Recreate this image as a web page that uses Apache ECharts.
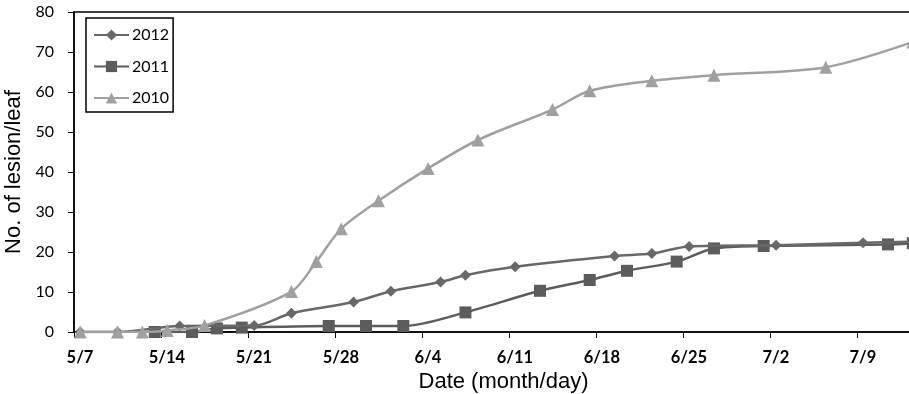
<!DOCTYPE html>
<html>
<head>
<meta charset="utf-8">
<script src="https://cdn.jsdelivr.net/npm/echarts@6/dist/echarts.min.js"></script>
<style>html,body{margin:0;padding:0;background:#fff;}#c{width:909px;height:394px;}</style>
</head>
<body>
<div id="c"></div>
<script>
// Dates (month/day) and values
const dates2012 = ['5/7','5/10','5/15','5/21','5/24','5/29','6/1','6/5','6/7','6/11','6/19','6/22','6/25','7/2','7/9','7/13'];
const values2012 = [0, 0, 1.5, 1.6, 4.7, 7.5, 10.2, 12.5, 14.2, 16.3, 19, 19.6, 21.4, 21.7, 22.3, 22.6];
const dates2011 = ['5/13','5/16','5/18','5/20','5/27','5/30','6/2','6/7','6/13','6/17','6/20','6/24','6/27','7/1','7/11','7/13'];
const values2011 = [0, 0, 0.9, 1.1, 1.5, 1.5, 1.5, 4.9, 10.3, 13, 15.3, 17.6, 20.9, 21.5, 21.9, 22.2];
const dates2010 = ['5/7','5/10','5/12','5/14','5/17','5/24','5/26','5/28','5/31','6/4','6/8','6/14','6/17','6/22','6/27','7/6','7/13'];
const values2010 = [0, 0, 0, 0.4, 1.6, 10.1, 17.6, 25.8, 32.8, 40.9, 48, 55.6, 60.3, 62.8, 64.2, 66.2, 72.5];
const tickLabels = ['5/7','5/14','5/21','5/28','6/4','6/11','6/18','6/25','7/2','7/9'];
const startDate = '5/7';
const endDate = '7/14';

function dayIndex(md) {
  const [m, d] = md.split('/').map(Number);
  const t = Date.UTC(2000, m - 1, d);
  const [m0, d0] = startDate.split('/').map(Number);
  return Math.round((t - Date.UTC(2000, m0 - 1, d0)) / 86400000);
}
// points sit in the middle of each day slot
function pts(ds, vs) { return ds.map((d, i) => [dayIndex(d) + 0.5, vs[i]]); }

const chart = echarts.init(document.getElementById('c'), null, {renderer: 'canvas'});
const lw = 2.5;
chart.setOption({
  animation: false,
  backgroundColor: '#fff',
  grid: {left: 74, right: -10, top: 12, bottom: 62, outerBoundsMode: 'none', containLabel: false,
         show: true, borderColor: '#000', borderWidth: 1.5, backgroundColor: 'transparent'},
  legend: {
    orient: 'vertical', left: 86, top: 18,
    padding: [9, 4, 6, 7],
    itemWidth: 35, itemHeight: 14, itemGap: 15.5,
    borderColor: '#000', borderWidth: 1.5,
    textStyle: {fontFamily: 'Lato', fontSize: 16, color: '#000', padding: [0, 0, 0, -2]},
    data: ['2012', '2011', '2010']
  },
  xAxis: {
    type: 'value', min: 0, max: dayIndex(endDate), interval: 7,
    name: 'Date (month/day)', nameLocation: 'middle', nameGap: 36,
    nameTextStyle: {fontFamily: 'Liberation Sans', fontSize: 22, color: '#000', padding: [0, 0, 0, 14]},
    axisLine: {show: true, lineStyle: {color: '#000', width: 1.5}},
    axisTick: {show: true, inside: false, length: 6, lineStyle: {color: '#000', width: 1}},
    axisLabel: {
      fontFamily: 'Lato', fontWeight: 'bold', fontSize: 16.5, color: '#000', margin: 17,
      padding: [0, 0, 0, 12], showMinLabel: true, showMaxLabel: false,
      formatter: v => (v % 7 === 0 ? (tickLabels[v / 7] || '') : '')
    },
    splitLine: {show: false}
  },
  yAxis: {
    type: 'value', min: 0, max: 80, interval: 10,
    name: 'No. of lesion/leaf', nameLocation: 'middle', nameGap: 42,
    nameTextStyle: {fontFamily: 'Liberation Sans', fontSize: 22, color: '#000'},
    axisLine: {show: true, lineStyle: {color: '#000', width: 1.5}},
    axisTick: {show: true, inside: false, length: 6, lineStyle: {color: '#000', width: 1}},
    axisLabel: {fontFamily: 'Lato', fontSize: 16, color: '#000', margin: 20},
    splitLine: {show: false}
  },
  series: [
    {name: '2012', type: 'line', smooth: 0.3, data: pts(dates2012, values2012),
     symbol: 'diamond', symbolSize: 11, color: '#686868', z: 3,
     lineStyle: {color: '#686868', width: lw}, itemStyle: {color: '#686868'}},
    {name: '2011', type: 'line', smooth: 0.3, data: pts(dates2011, values2011),
     symbol: 'rect', symbolSize: 12, color: '#5c5c5c', z: 2,
     lineStyle: {color: '#5c5c5c', width: lw}, itemStyle: {color: '#5c5c5c'}},
    {name: '2010', type: 'line', smooth: 0.3, data: pts(dates2010, values2010),
     symbol: 'triangle', symbolSize: 13, color: '#a0a0a0', z: 4,
     lineStyle: {color: '#a0a0a0', width: lw}, itemStyle: {color: '#a0a0a0'}}
  ]
});
</script>
</body>
</html>
